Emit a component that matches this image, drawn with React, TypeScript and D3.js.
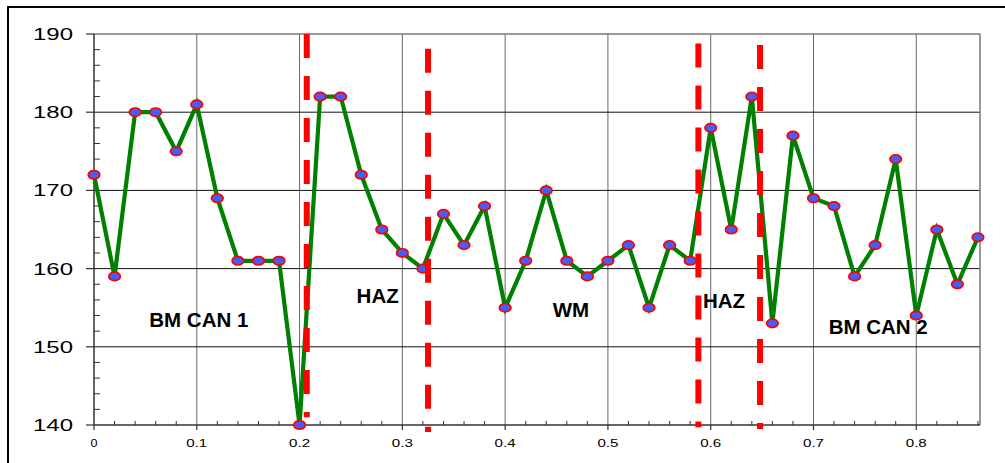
import React from "react";
import * as d3 from "d3";

const positions = [0, 0.02, 0.04, 0.06, 0.08, 0.1, 0.12, 0.14, 0.16, 0.18, 0.2, 0.22, 0.24, 0.26, 0.28, 0.3, 0.32, 0.34, 0.36, 0.38, 0.4, 0.42, 0.44, 0.46, 0.48, 0.5, 0.52, 0.54, 0.56, 0.58, 0.6, 0.62, 0.64, 0.66, 0.68, 0.7, 0.72, 0.74, 0.76, 0.78, 0.8, 0.82, 0.84, 0.86];
const hardness = [172, 159, 180, 180, 175, 181, 169, 161, 161, 161, 140, 182, 182, 172, 165, 162, 160, 167, 163, 168, 155, 161, 170, 161, 159, 161, 163, 155, 163, 161, 178, 165, 182, 153, 177, 169, 168, 159, 163, 174, 154, 165, 158, 164];

const xTicks = [0, 0.1, 0.2, 0.3, 0.4, 0.5, 0.6, 0.7, 0.8];
const xTickLabels = ["0", "0.1", "0.2", "0.3", "0.4", "0.5", "0.6", "0.7", "0.8"];
const yTicks = [140, 150, 160, 170, 180, 190];

const boundaryX = [0.207, 0.325, 0.588, 0.648];
const boundaryTop = [190, 188.1, 188.8, 188.6];
const boundaryBottom = [141.0, 139.1, 139.7, 139.5];

const zoneLabels = ["BM CAN 1", "HAZ", "WM", "HAZ", "BM CAN 2"];
const zoneX = [0.102, 0.276, 0.464, 0.613, 0.763];
const zoneY = [152.5, 155.6, 153.8, 155.0, 151.6];

export default function App() {
  const W = 1005, H = 463;
  const left = 94, right = 980, top = 34, bottom = 425;
  const xMax = 0.862;
  const x = d3.scaleLinear().domain([0, xMax]).range([left, right]);
  const y = d3.scaleLinear().domain([140, 190]).range([bottom, top]);

  const line = d3.line<number>().x((_, i) => x(positions[i])).y((d) => y(d));

  const minorY = d3.range(140, 190.001, 2).filter((v) => v % 10 !== 0);
  const minorX = d3.range(0, xMax, 0.02).filter((v) => Math.abs(v * 10 - Math.round(v * 10)) > 1e-6);

  const font = "Liberation Sans, Arial, sans-serif";

  return (
    <svg width={W} height={H} style={{ position: "absolute", left: 0, top: 0, background: "#fff" }} fontFamily={font}>
      <rect x={8} y={7} width={1010} height={470} fill="#fff" stroke="#000" strokeWidth={2} />
      {/* gridlines */}
      {xTicks.slice(1).map((t) => (
        <line key={"gx" + t} x1={x(t)} x2={x(t)} y1={top} y2={bottom} stroke="#666" strokeWidth={1} />
      ))}
      {yTicks.slice(1, -1).map((t) => (
        <line key={"gy" + t} x1={left} x2={right} y1={y(t)} y2={y(t)} stroke="#111" strokeWidth={1} />
      ))}
      <line x1={left} x2={right} y1={top} y2={top} stroke="#777" strokeWidth={1.5} />
      <line x1={right} x2={right} y1={top} y2={bottom} stroke="#777" strokeWidth={1.5} />
      {/* axes */}
      <line x1={left} x2={left} y1={top} y2={bottom} stroke="#333" strokeWidth={1.5} />
      <line x1={left} x2={right} y1={bottom} y2={bottom} stroke="#333" strokeWidth={1.5} />
      {yTicks.map((t) => (
        <g key={"yt" + t}>
          <line x1={left - 8} x2={left} y1={y(t)} y2={y(t)} stroke="#333" strokeWidth={1.2} />
          <text x={73} y={y(t) + 6} textAnchor="end" fontSize={16} textLength={40} lengthAdjust="spacingAndGlyphs" fill="#000">
            {t}
          </text>
        </g>
      ))}
      {minorY.map((t) => (
        <line key={"my" + t} x1={left} x2={left + 6} y1={y(t)} y2={y(t)} stroke="#333" strokeWidth={1} />
      ))}
      {xTicks.map((t, i) => (
        <g key={"xt" + t}>
          <line x1={x(t)} x2={x(t)} y1={bottom} y2={bottom + 5} stroke="#333" strokeWidth={1.2} />
          <text
            x={x(t)}
            y={447}
            textAnchor="middle"
            fontSize={10}
            textLength={xTickLabels[i].length === 1 ? 7 : 21}
            lengthAdjust="spacingAndGlyphs"
            fill="#000"
          >
            {xTickLabels[i]}
          </text>
        </g>
      ))}
      {minorX.map((t) => (
        <line key={"mx" + t} x1={x(t)} x2={x(t)} y1={bottom - 4} y2={bottom} stroke="#333" strokeWidth={1} />
      ))}
      {/* data line */}
      <path d={line(hardness) || ""} fill="none" stroke="#008000" strokeWidth={4.2} strokeLinejoin="miter" />
      {hardness.map((v, i) => (
        <ellipse key={"m" + i} cx={x(positions[i])} cy={y(v)} rx={5.8} ry={4.2} fill="#3f5fff" stroke="#ff0000" strokeWidth={1.7} />
      ))}
      {/* boundaries */}
      {boundaryX.map((bx, i) => (
        <line
          key={"b" + i}
          x1={x(bx)}
          x2={x(bx)}
          y1={y(boundaryTop[i])}
          y2={y(boundaryBottom[i])}
          stroke="#ff0000"
          strokeWidth={6}
          strokeDasharray="24 18"
        />
      ))}
      {/* zone labels */}
      {zoneLabels.map((s, i) => (
        <text key={"z" + i} x={x(zoneX[i])} y={y(zoneY[i])} textAnchor="middle" fontSize={20.5} fontWeight="bold" fill="#000">
          {s}
        </text>
      ))}
    </svg>
  );
}
